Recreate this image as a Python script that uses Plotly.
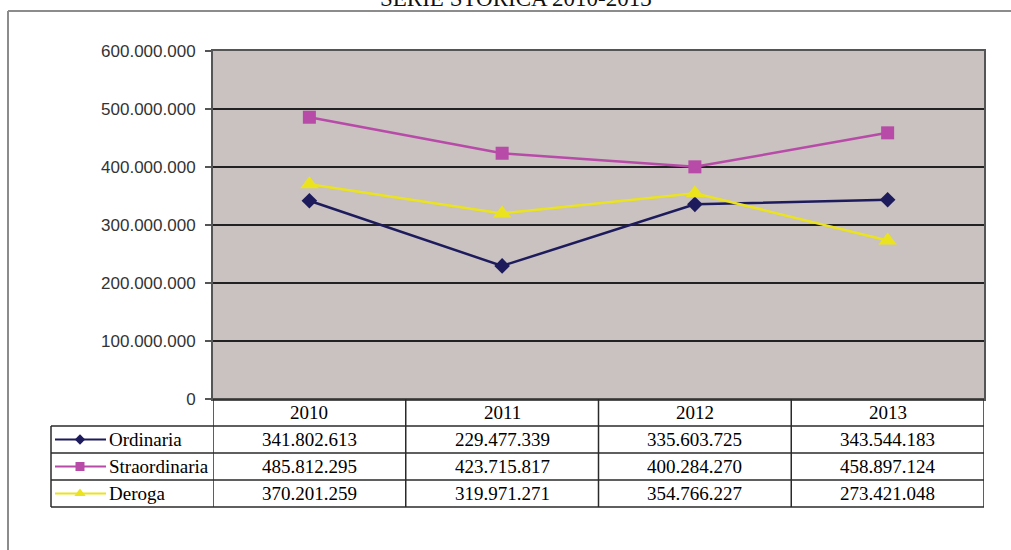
import plotly.graph_objects as go

W, H = 1011, 550

title = "SERIE STORICA 2010-2013"
years = ["2010", "2011", "2012", "2013"]
series_names = ["Ordinaria", "Straordinaria", "Deroga"]
ordinaria = [341802613, 229477339, 335603725, 343544183]
straordinaria = [485812295, 423715817, 400284270, 458897124]
deroga = [370201259, 319971271, 354766227, 273421048]
y_ticks = [0, 100000000, 200000000, 300000000, 400000000, 500000000, 600000000]
y_tick_labels = ["0", "100.000.000", "200.000.000", "300.000.000",
                 "400.000.000", "500.000.000", "600.000.000"]

series_values = [ordinaria, straordinaria, deroga]
colors = ["#1d1b5c", "#b84aa8", "#ebe31e"]
symbols = ["diamond", "square", "triangle-up"]
msizes = [12, 13, 16]
leg_msizes = [8, 9, 10]

SERIF = "Liberation Serif, Times New Roman, serif"


def fmt(v):
    return f"{v:,}".replace(",", ".")


# layout geometry (pixels)
PL, PR, PT, PB = 213, 984, 51, 399
ROW_H = 27
TBL_LEFT = 51
header_top = PB
row_tops = [PB + ROW_H * (i + 1) for i in range(3)]
tbl_bottom = PB + ROW_H * 4

fig = go.Figure()

xi = list(range(len(years)))
for name, vals, c, s, ms in zip(series_names, series_values, colors, symbols, msizes):
    fig.add_trace(go.Scatter(
        x=xi, y=vals, mode="lines+markers", name=name,
        line=dict(color=c, width=2.5),
        marker=dict(symbol=s, size=ms, color=c),
        xaxis="x", yaxis="y", showlegend=False, cliponaxis=False,
    ))

# legend samples inside the table (pixel overlay axes)
for i, (name, c, s, ms) in enumerate(zip(series_names, colors, symbols, leg_msizes)):
    yc = row_tops[i] + ROW_H / 2
    fig.add_trace(go.Scatter(
        x=[55, 106], y=[yc, yc], mode="lines", line=dict(color=c, width=2),
        xaxis="x2", yaxis="y2", showlegend=False, hoverinfo="skip",
    ))
    fig.add_trace(go.Scatter(
        x=[80], y=[yc], mode="markers", marker=dict(symbol=s, size=ms, color=c),
        xaxis="x2", yaxis="y2", showlegend=False, hoverinfo="skip",
    ))

shapes = []
# outer frame
shapes.append(dict(type="line", xref="x2", yref="y2", x0=8, x1=W, y0=11, y1=11,
                   line=dict(color="#8c8c8c", width=2)))
shapes.append(dict(type="line", xref="x2", yref="y2", x0=8, x1=8, y0=11, y1=H,
                   line=dict(color="#8c8c8c", width=2)))
# plot background
shapes.append(dict(type="rect", xref="x domain", yref="y domain", x0=0, x1=1, y0=0, y1=1,
                   fillcolor="#c9c2c0", line=dict(width=0), layer="below"))

tline = dict(color="#2a2a2a", width=1.5)
# table horizontal lines
shapes.append(dict(type="line", xref="x", yref="y2", x0=-0.5, x1=3.5,
                   y0=header_top, y1=header_top, line=tline))
for yy in [row_tops[0], row_tops[1], row_tops[2], tbl_bottom]:
    shapes.append(dict(type="line", xref="x2", yref="y2", x0=TBL_LEFT, x1=PR,
                       y0=yy, y1=yy, line=tline))
# table vertical lines
shapes.append(dict(type="line", xref="x2", yref="y2", x0=TBL_LEFT, x1=TBL_LEFT,
                   y0=row_tops[0], y1=tbl_bottom, line=tline))
for k in range(len(years) + 1):
    shapes.append(dict(type="line", xref="x", yref="y2", x0=k - 0.5, x1=k - 0.5,
                       y0=header_top, y1=tbl_bottom, line=tline))

annotations = []
annotations.append(dict(text=title, xref="x2", yref="y2", x=516, y=13,
                        xanchor="center", yanchor="bottom", showarrow=False,
                        font=dict(family=SERIF, size=23, color="#111")))
tfont = dict(family=SERIF, size=19, color="#000")
for j, yr in enumerate(years):
    annotations.append(dict(text=yr, xref="x", yref="y2", x=j, y=header_top + ROW_H / 2,
                            xanchor="center", yanchor="middle", showarrow=False, font=tfont))
for i, (name, vals) in enumerate(zip(series_names, series_values)):
    yc = row_tops[i] + ROW_H / 2
    annotations.append(dict(text=name, xref="x2", yref="y2", x=107, y=yc,
                            xanchor="left", yanchor="middle", showarrow=False, font=tfont))
    for j, v in enumerate(vals):
        annotations.append(dict(text=fmt(v), xref="x", yref="y2", x=j, y=yc,
                                xanchor="center", yanchor="middle", showarrow=False,
                                font=tfont))

fig.update_layout(
    width=W, height=H, autosize=False,
    margin=dict(l=0, r=0, t=0, b=0, pad=0, autoexpand=False),
    paper_bgcolor="white",
    plot_bgcolor="rgba(0,0,0,0)",
    xaxis=dict(domain=[PL / W, PR / W], range=[-0.5, 3.5], showticklabels=False,
               showgrid=False, zeroline=False, showline=True, mirror=True,
               linecolor="#555", linewidth=2, ticks="", fixedrange=True,
               automargin=False),
    yaxis=dict(domain=[(H - PB) / H, (H - PT) / H], range=[0, 600000000],
               tickvals=y_ticks, ticktext=y_tick_labels, showgrid=True,
               gridcolor="#222", gridwidth=1.5, zeroline=False, showline=True,
               mirror=True, linecolor="#555", linewidth=2, ticks="outside",
               ticklen=6, tickcolor="#555", tickwidth=1.5, ticklabelstandoff=6,
               tickfont=dict(family="Liberation Sans", size=17, color="#333"),
               fixedrange=True, automargin=False),
    xaxis2=dict(domain=[0, 1], range=[0, W], visible=False, anchor="y2",
                fixedrange=True, automargin=False),
    yaxis2=dict(domain=[0, 1], range=[H, 0], visible=False, anchor="x2",
                fixedrange=True, automargin=False),
    shapes=shapes,
    annotations=annotations,
)

fig.write_html("out.html")
